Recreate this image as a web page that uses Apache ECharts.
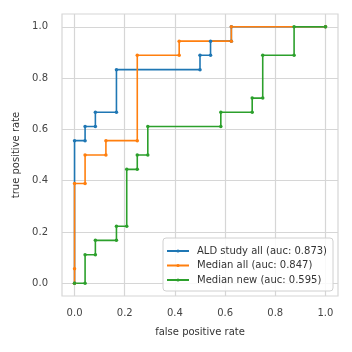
<!DOCTYPE html>
<html>
<head>
<meta charset="UTF-8">
<script src="https://cdn.jsdelivr.net/npm/echarts@6/dist/echarts.min.js"></script>
<style>
	html, body { margin: 0; padding: 0; background: #fff; }
	#main { width: 352px; height: 352px; }
</style>
</head>
<body>
<div id="main"></div>
<script>
	// roc points (fpr, tpr)
	var aldFpr = [0, 0, 0.042, 0.042, 0.083, 0.083, 0.167, 0.167, 0.5, 0.5, 0.542, 0.542, 0.625, 0.625, 1];
	var aldTpr = [0, 0.556, 0.556, 0.611, 0.611, 0.667, 0.667, 0.833, 0.833, 0.889, 0.889, 0.944, 0.944, 1, 1];

	var medAllFpr = [0, 0, 0, 0.042, 0.042, 0.125, 0.125, 0.25, 0.25, 0.417, 0.417, 0.625, 0.625, 1];
	var medAllTpr = [0, 0.056, 0.389, 0.389, 0.5, 0.5, 0.556, 0.556, 0.889, 0.889, 0.944, 0.944, 1, 1];

	var medNewFpr = [0, 0.042, 0.042, 0.083, 0.083, 0.167, 0.167, 0.208, 0.208, 0.25, 0.25, 0.292, 0.292, 0.583, 0.583, 0.708, 0.708, 0.75, 0.75, 0.875, 0.875, 1];
	var medNewTpr = [0, 0, 0.111, 0.111, 0.167, 0.167, 0.222, 0.222, 0.444, 0.444, 0.5, 0.5, 0.611, 0.611, 0.667, 0.667, 0.722, 0.722, 0.889, 0.889, 1, 1];

	var names = ['ALD study all (auc: 0.873)', 'Median all (auc: 0.847)', 'Median new (auc: 0.595)'];
	var colors = ['#1f77b4', '#ff7f0e', '#2ca02c'];
	var ticks = [0, 0.2, 0.4, 0.6, 0.8, 1.0];

	function pairs(xs, ys) {
		var out = [];
		for (var i = 0; i < xs.length; i++) out.push([xs[i], ys[i]]);
		return out;
	}

	var myChart = echarts.init(document.getElementById('main'));
	var gridColor = '#d6d6d6';
	var font = 'DejaVu Sans';

	function axis(name, isY) {
		return {
			type: 'value',
			min: -0.05,
			max: 1.05,
			name: name,
			nameLocation: 'middle',
			nameGap: isY ? 35 : 31,
			nameTextStyle: { fontSize: 10, color: '#333', fontFamily: font },
			axisLine: { show: false },
			axisTick: { show: false, customValues: ticks },
			axisLabel: {
				customValues: ticks,
				fontSize: 10,
				color: '#444',
				fontFamily: font,
				margin: isY ? 14 : 12,
				formatter: function (v) { return v.toFixed(1); }
			},
			splitLine: { show: true, lineStyle: { color: gridColor, width: 1.2 } }
		};
	}

	var series = [];
	var data = [pairs(aldFpr, aldTpr), pairs(medAllFpr, medAllTpr), pairs(medNewFpr, medNewTpr)];
	for (var k = 0; k < 3; k++) {
		series.push({
			name: names[k],
			type: 'line',
			data: data[k],
			symbol: 'circle',
			symbolSize: 3.5,
			showSymbol: true,
			animation: false,
			itemStyle: { color: colors[k] },
			lineStyle: { color: colors[k], width: 1.6 }
		});
	}

	myChart.setOption({
		animation: false,
		grid: {
			left: 62, right: 14, top: 14, bottom: 56,
			show: true, borderColor: gridColor, borderWidth: 1.2,
			containLabel: false
		},
		xAxis: axis('false positive rate', false),
		yAxis: axis('true positive rate', true),
		legend: {
			orient: 'vertical',
			left: 163,
			top: 238,
			padding: [8, 6, 6, 3],
			itemGap: 4.5,
			itemWidth: 22,
			itemHeight: 4,
			borderColor: '#d0d0d0',
			borderWidth: 1,
			borderRadius: 3,
			backgroundColor: 'rgba(255,255,255,0.85)',
			textStyle: { fontSize: 10, color: '#333', fontFamily: font, padding: [0, 0, 0, 3] },
			data: names
		},
		series: series
	});
</script>
</body>
</html>
